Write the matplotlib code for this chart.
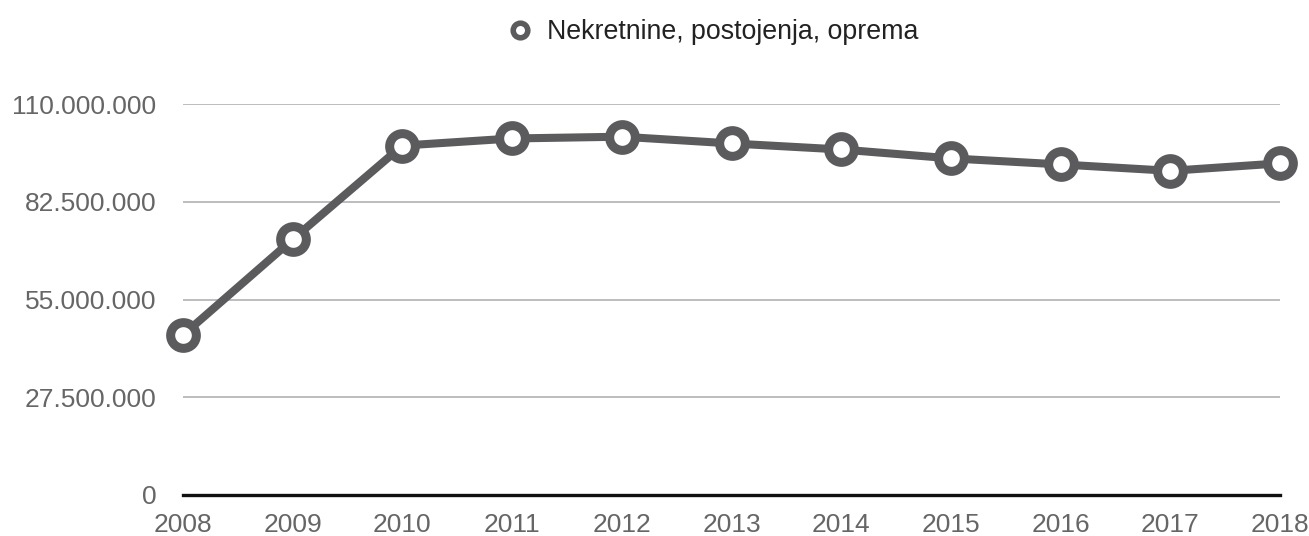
import matplotlib.pyplot as plt
from matplotlib.lines import Line2D
from matplotlib.ticker import FuncFormatter

years = [2008, 2009, 2010, 2011, 2012, 2013, 2014, 2015, 2016, 2017, 2018]
values = [45.0e6, 71.9e6, 98.3e6, 100.3e6, 100.8e6, 98.9e6, 97.2e6, 94.7e6, 93.0e6, 91.2e6, 93.3e6]
series_name = 'Nekretnine, postojenja, oprema'
y_ticks = [0, 27.5e6, 55e6, 82.5e6, 110e6]

plt.rcParams['font.family'] = ['Liberation Sans', 'DejaVu Sans']

line_color = '#5b5b5d'

fig = plt.figure(figsize=(13.09, 5.36), dpi=100)
ax = fig.add_axes([183 / 1309, 1 - 495 / 536, (1280 - 183) / 1309, (495 - 104) / 536])

ax.plot(years, values, color=line_color, lw=5.8, marker='o', ms=18.5,
        mfc='white', mec=line_color, mew=6.5, clip_on=False, zorder=3)

ax.set_xlim(2008, 2018)
ax.set_ylim(0, 110e6)
ax.set_xticks(years)
ax.set_yticks(y_ticks)


def dot_thousands(v, pos):
    return f'{int(round(v)):,}'.replace(',', '.')


ax.yaxis.set_major_formatter(FuncFormatter(dot_thousands))
ax.tick_params(axis='both', length=0, labelsize=19, labelcolor='#666666')
ax.tick_params(axis='y', pad=19)
ax.tick_params(axis='x', pad=13)

for t in y_ticks[1:]:
    ax.axhline(t, color='#bdbdc0', lw=1.4, zorder=1)

for side in ['top', 'right', 'left']:
    ax.spines[side].set_visible(False)
ax.spines['bottom'].set_color('#111111')
ax.spines['bottom'].set_linewidth(2.4)
ax.spines['bottom'].set_zorder(2)

handle = Line2D([], [], color=line_color, ls='none', marker='o', ms=10.5,
                mfc='white', mec=line_color, mew=4)
fig.legend([handle], [series_name], loc='center', bbox_to_anchor=(711 / 1309, 1 - 32 / 536),
           frameon=False, fontsize=19.3, handletextpad=0.4, handlelength=1.2,
           labelcolor='#222222')

fig.savefig('out.png', dpi=100)
